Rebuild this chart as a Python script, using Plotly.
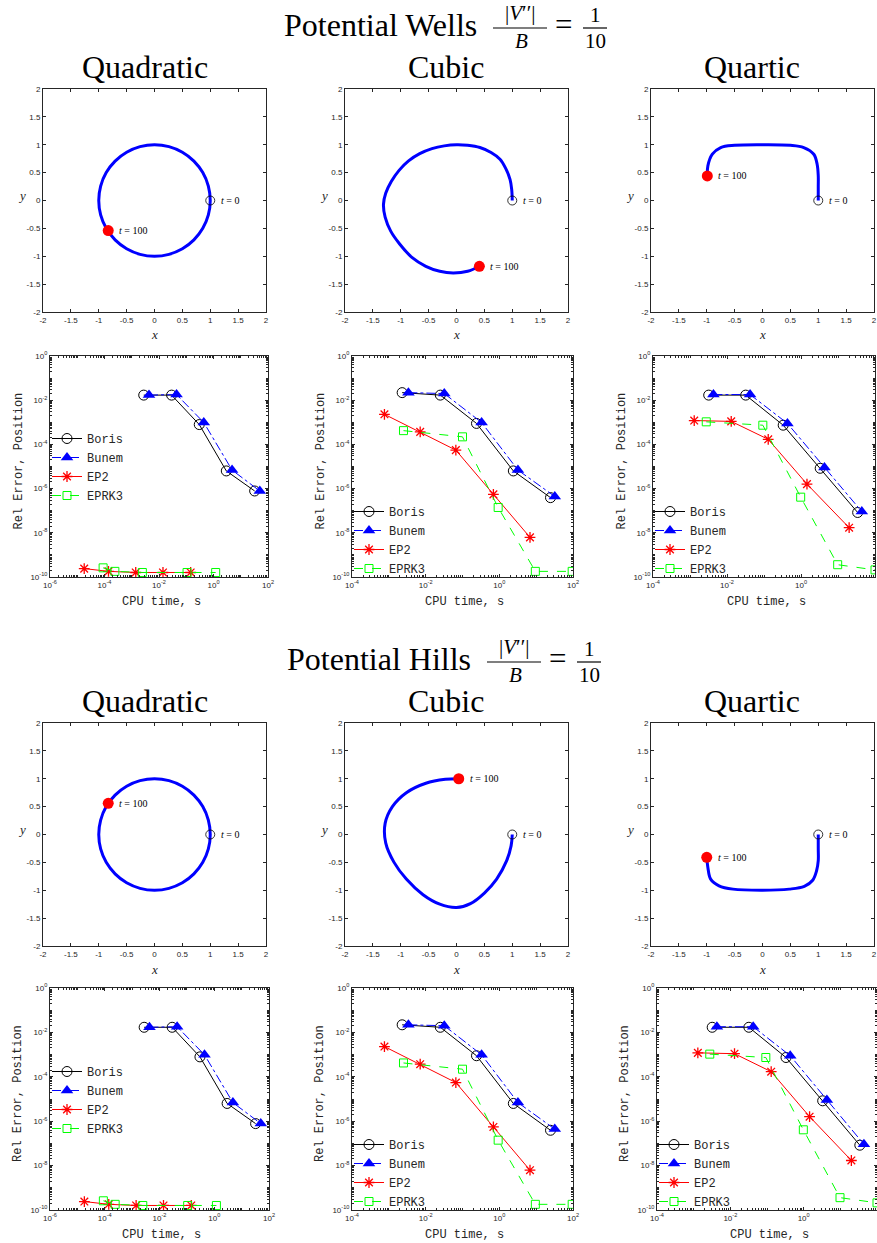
import plotly.graph_objects as go

W, H = 877, 1243
AXC = "#262626"
SERIF = "Liberation Serif, Times New Roman, serif"
SANS = "Liberation Sans, Arial, sans-serif"
MONO = "Liberation Mono, Courier New, monospace"

# ---------------- text / ticks ----------------
MAIN_TITLES = ["Potential Wells", "Potential Hills"]
COL_TITLES = ["Quadratic", "Cubic", "Quartic"]
METHODS = ["Boris", "Bunem", "EP2", "EPRK3"]
PHASE_TICKS = [-2, -1.5, -1, -0.5, 0, 0.5, 1, 1.5, 2]
PHASE_TICKTEXT = ["-2", "-1.5", "-1", "-0.5", "0", "0.5", "1", "1.5", "2"]
LOG_Y_TICKS = [1e-10, 1e-8, 1e-6, 1e-4, 1e-2, 1]
LOG_Y_TICKTEXT = ["10<sup>-10</sup>", "10<sup>-8</sup>", "10<sup>-6</sup>",
                  "10<sup>-4</sup>", "10<sup>-2</sup>", "10<sup>0</sup>"]
LOG_X_TICKS_Q = [1e-6, 1e-4, 1e-2, 1, 1e2]
LOG_X_TICKTEXT_Q = ["10<sup>-6</sup>", "10<sup>-4</sup>", "10<sup>-2</sup>", "10<sup>0</sup>", "10<sup>2</sup>"]
LOG_X_TICKS = [1e-4, 1e-2, 1, 1e2]
LOG_X_TICKTEXT = ["10<sup>-4</sup>", "10<sup>-2</sup>", "10<sup>0</sup>", "10<sup>2</sup>"]

# ---------------- trajectories ----------------
quad_x = [1, 0.966, 0.866, 0.707, 0.5, 0.259, 0, -0.259, -0.5, -0.707, -0.866, -0.966, -1,
          -0.966, -0.866, -0.707, -0.5, -0.259, 0, 0.259, 0.5, 0.707, 0.866, 0.966, 1]
quad_y = [0, 0.259, 0.5, 0.707, 0.866, 0.966, 1, 0.966, 0.866, 0.707, 0.5, 0.259, 0,
          -0.259, -0.5, -0.707, -0.866, -0.966, -1, -0.966, -0.866, -0.707, -0.5, -0.259, 0]

wells_cubic_x = [1, 0.99, 0.96, 0.88, 0.78, 0.62, 0.42, 0.2, 0, -0.22, -0.44, -0.66, -0.86,
                 -1.03, -1.17, -1.27, -1.31, -1.28, -1.18, -1.02, -0.8, -0.55, -0.3, -0.06, 0.2, 0.41]
wells_cubic_y = [0, 0.2, 0.38, 0.58, 0.74, 0.86, 0.95, 0.99, 1.0, 0.98, 0.93, 0.84, 0.71,
                 0.54, 0.34, 0.13, -0.07, -0.3, -0.55, -0.78, -1.02, -1.18, -1.27, -1.3, -1.27, -1.18]
wells_quartic_x = [1, 1, 1, 0.98, 0.92, 0.74, 0.5, 0, -0.5, -0.75, -0.9, -0.98, -0.99]
wells_quartic_y = [0, 0.25, 0.44, 0.65, 0.83, 0.95, 0.99, 1.0, 0.99, 0.95, 0.83, 0.62, 0.44]

hills_cubic_x = [1, 0.98, 0.9, 0.72, 0.5, 0.25, 0, -0.3, -0.6, -0.9, -1.12, -1.27, -1.28,
                 -1.15, -0.9, -0.55, -0.2, 0.04]
hills_cubic_y = [0, -0.2, -0.47, -0.8, -1.05, -1.24, -1.31, -1.25, -1.08, -0.8, -0.5, -0.15, 0.2,
                 0.5, 0.75, 0.92, 0.99, 1.0]
hills_quartic_x = [1, 1, 1, 0.97, 0.9, 0.75, 0.48, 0, -0.53, -0.78, -0.93, -0.98, -1.0]
hills_quartic_y = [0, -0.25, -0.47, -0.65, -0.82, -0.93, -0.98, -1.0, -0.98, -0.92, -0.8, -0.59, -0.41]

# final positions (t = 100)
wells_end_x = [-0.83, 0.41, -0.99]
wells_end_y = [-0.54, -1.18, 0.44]
hills_end_x = [-0.83, 0.04, -1.0]
hills_end_y = [0.56, 1.0, -0.41]

# ---------------- error vs CPU time ----------------
quad_boris_t = [2.75e-3, 2.9e-2, 0.30, 2.95, 32.4]
quad_boris_e = [1.7e-2, 1.7e-2, 7.9e-4, 6.3e-6, 7.8e-7]
quad_bunem_t = [4.3e-3, 4.4e-2, 0.44, 4.8, 50]
quad_bunem_e = [1.7e-2, 1.8e-2, 9.8e-4, 6.9e-6, 7.8e-7]
quad_ep2_t = [1.8e-5, 1.4e-4, 1.4e-3, 1.4e-2, 0.145]
quad_ep2_e = [2.4e-10, 1.8e-10, 1.6e-10, 1.6e-10, 1.6e-10]
quad_eprk3_t = [8.9e-5, 2.4e-4, 2.45e-3, 0.107, 1.2]
quad_eprk3_e = [2.6e-10, 1.8e-10, 1.6e-10, 1.6e-10, 1.6e-10]

cubic_boris_t = [2.3e-3, 2.5e-2, 0.24, 2.4, 24.5]
cubic_boris_e = [2.2e-2, 1.7e-2, 8.9e-4, 6.3e-6, 3.9e-7]
cubic_bunem_t = [3.4e-3, 3.2e-2, 0.33, 3.2, 32]
cubic_bunem_e = [2.2e-2, 2.0e-2, 9.8e-4, 6.9e-6, 4.4e-7]
cubic_ep2_t = [7.6e-4, 7.1e-3, 6.6e-2, 0.69, 6.8]
cubic_ep2_e = [2.3e-3, 3.7e-4, 5.5e-5, 5.5e-7, 6.2e-9]
cubic_eprk3_t = [2.5e-3, 0.1, 0.93, 9.5, 95]
cubic_eprk3_e = [4.2e-4, 2.2e-4, 1.4e-7, 1.8e-10, 1.8e-10]

quartic_boris_t = [3.2e-3, 3.2e-2, 0.33, 3.3, 34]
quartic_boris_e = [1.7e-2, 1.7e-2, 7.4e-4, 8.3e-6, 8.3e-8]
quartic_bunem_t = [4.3e-3, 4.2e-2, 0.43, 4.3, 44]
quartic_bunem_e = [1.8e-2, 1.8e-2, 8.9e-4, 8.9e-6, 9.1e-8]
quartic_ep2_t = [1.3e-3, 1.3e-2, 0.13, 1.45, 20]
quartic_ep2_e = [1.2e-3, 1.1e-3, 1.7e-4, 1.6e-6, 1.7e-8]
quartic_eprk3_t = [2.75e-3, 9.3e-2, 0.98, 9.8, 100]
quartic_eprk3_e = [1.05e-3, 7.4e-4, 4.1e-7, 3.6e-10, 2.1e-10]

# ---------------- layout geometry (pixels) ----------------
PHASE_COLS = [(43, 266), (345, 568), (651, 874)]
PHASE_ROWS = [(89, 312), (723, 946)]
LOG_COLS = [[(50, 268), (352, 573), (653, 875)], [(50, 269), (352, 573), (657, 877)]]
LOG_ROWS = [(356, 577), (988, 1210)]
ROW_SHIFT = 634


def px(v):
    return min(max(v / W, 0), 1)


def py(v):
    return min(max(1 - v / H, 0), 1)


fig = go.Figure()
layout = {}
annotations = []
shapes = []

axis_common = dict(showline=True, linecolor=AXC, linewidth=1, mirror="ticks", ticks="inside",
                   ticklen=3, tickcolor=AXC, tickwidth=0.6, showgrid=False, zeroline=False,
                   automargin=False, tickfont=dict(family=SANS, size=8, color=AXC))


def sfx(k):
    return "" if k == 1 else str(k)


def phase_panel(k, cx, ry, tx, ty, ex, ey):
    s = sfx(k)
    layout["xaxis" + s] = dict(domain=[px(cx[0]), px(cx[1])], range=[-2, 2], tickmode="array",
                               tickvals=PHASE_TICKS, ticktext=PHASE_TICKTEXT, anchor="y" + s,
                               **axis_common)
    layout["yaxis" + s] = dict(domain=[py(ry[1]), py(ry[0])], range=[-2, 2], tickmode="array",
                               tickvals=PHASE_TICKS, ticktext=PHASE_TICKTEXT, anchor="x" + s,
                               **axis_common)
    fig.add_trace(go.Scatter(x=tx, y=ty, mode="lines", line=dict(color="#0000FF", width=3, shape="spline"),
                             xaxis="x" + s, yaxis="y" + s, showlegend=False, hoverinfo="skip"))
    fig.add_trace(go.Scatter(x=[tx[0]], y=[ty[0]], mode="markers",
                             marker=dict(symbol="circle-open", size=9, color="black", line=dict(width=0.8)),
                             xaxis="x" + s, yaxis="y" + s, showlegend=False))
    fig.add_trace(go.Scatter(x=[ex], y=[ey], mode="markers",
                             marker=dict(symbol="circle", size=11, color="#FF0000"),
                             xaxis="x" + s, yaxis="y" + s, showlegend=False))
    for (ax_, ay_, txt) in [(tx[0], ty[0], "<i>t</i> = 0"), (ex, ey, "<i>t</i> = 100")]:
        annotations.append(dict(x=ax_, y=ay_, xref="x" + s, yref="y" + s, text=txt, showarrow=False,
                                xanchor="left", yanchor="middle", xshift=9,
                                font=dict(family=SERIF, size=10, color="black")))
    annotations.append(dict(x=px((cx[0] + cx[1]) / 2), y=py(ry[1] + 23), xref="paper", yref="paper",
                            text="<i>x</i>", showarrow=False, xanchor="center", yanchor="middle",
                            font=dict(family=SERIF, size=13, color=AXC)))
    annotations.append(dict(x=px(cx[0] - 21), y=py((ry[0] + ry[1]) / 2 - 5), xref="paper", yref="paper",
                            text="<i>y</i>", showarrow=False, xanchor="center", yanchor="middle",
                            font=dict(family=SERIF, size=13, color=AXC)))


STYLES = {
    "Boris": dict(line=dict(color="#000000", width=1),
                  marker=dict(symbol="circle-open", size=10, color="#000000", line=dict(width=1))),
    "Bunem": dict(line=dict(color="#0000FF", width=1, dash="dashdot"),
                  marker=dict(symbol="triangle-up", size=11, color="#0000FF")),
    "EP2": dict(line=dict(color="#FF0000", width=1),
                marker=dict(symbol="asterisk-open", size=9, color="#FF0000", line=dict(width=1.3, color="#FF0000"))),
    "EPRK3": dict(line=dict(color="#00FF00", width=1, dash="dash"),
                  marker=dict(symbol="square-open", size=8, color="#00FF00", line=dict(width=1))),
}

minor_vals = [m * 10.0 ** e for e in range(-10, 3) for m in range(1, 10)]


def log_panel(k, cx, ry, xr, xticks, xtext, series, legname, leg_y):
    s = sfx(k)
    minor = dict(tickmode="array", tickvals=minor_vals, ticks="inside", ticklen=1.6,
                 tickcolor=AXC, tickwidth=0.5, showgrid=False)
    layout["xaxis" + s] = dict(domain=[px(cx[0]), px(cx[1])], type="log", range=xr, tickmode="array",
                               tickvals=xticks, ticktext=xtext, anchor="y" + s, minor=minor, **axis_common)
    layout["yaxis" + s] = dict(domain=[py(ry[1]), py(ry[0])], type="log", range=[-10, 0], tickmode="array",
                               tickvals=LOG_Y_TICKS, ticktext=LOG_Y_TICKTEXT, anchor="x" + s,
                               minor=minor, **axis_common)
    for name, (t, e) in zip(METHODS, series):
        st = STYLES[name]
        fig.add_trace(go.Scatter(x=t, y=e, mode="lines+markers", name=name, line=st["line"],
                                 marker=st["marker"], xaxis="x" + s, yaxis="y" + s,
                                 legend=legname, showlegend=True))
    layout[legname] = dict(x=px(cx[0] - 3), y=py(leg_y), xanchor="left", yanchor="middle",
                           bgcolor="rgba(0,0,0,0)", borderwidth=0, itemwidth=30,
                           font=dict(family=MONO, size=12, color=AXC), tracegroupgap=0)
    annotations.append(dict(x=px(cx[0] - 32), y=py((ry[0] + ry[1]) / 2 - 5), xref="paper", yref="paper",
                            text="Rel Error, Position", showarrow=False, textangle=-90,
                            xanchor="center", yanchor="middle", font=dict(family=MONO, size=12, color=AXC)))
    annotations.append(dict(x=px((cx[0] + cx[1]) / 2 + 2), y=py(ry[1] + 25), xref="paper", yref="paper",
                            text="CPU time, s", showarrow=False, xanchor="center", yanchor="middle",
                            font=dict(family=MONO, size=12, color=AXC)))


quad_series = [(quad_boris_t, quad_boris_e), (quad_bunem_t, quad_bunem_e),
               (quad_ep2_t, quad_ep2_e), (quad_eprk3_t, quad_eprk3_e)]
cubic_series = [(cubic_boris_t, cubic_boris_e), (cubic_bunem_t, cubic_bunem_e),
                (cubic_ep2_t, cubic_ep2_e), (cubic_eprk3_t, cubic_eprk3_e)]
quartic_series = [(quartic_boris_t, quartic_boris_e), (quartic_bunem_t, quartic_bunem_e),
                  (quartic_ep2_t, quartic_ep2_e), (quartic_eprk3_t, quartic_eprk3_e)]

wells_traj = [(quad_x, quad_y), (wells_cubic_x, wells_cubic_y), (wells_quartic_x, wells_quartic_y)]
hills_traj = [(quad_x, quad_y), (hills_cubic_x, hills_cubic_y), (hills_quartic_x, hills_quartic_y)]

leg_names = ["legend", "legend2", "legend3", "legend4", "legend5", "legend6"]
leg_y_rows = [[467, 540, 540], [1100, 1173, 1173]]

k = 1
for blk in range(2):
    traj = wells_traj if blk == 0 else hills_traj
    ends_x = wells_end_x if blk == 0 else hills_end_x
    ends_y = wells_end_y if blk == 0 else hills_end_y
    for c in range(3):
        phase_panel(k, PHASE_COLS[c], PHASE_ROWS[blk], traj[c][0], traj[c][1], ends_x[c], ends_y[c])
        k += 1
    for c, ser in enumerate([quad_series, cubic_series, quartic_series]):
        if c == 0:
            xr, xt, xtt = [-6, 2], LOG_X_TICKS_Q, LOG_X_TICKTEXT_Q
        else:
            xr, xt, xtt = [-4, 2], LOG_X_TICKS, LOG_X_TICKTEXT
        log_panel(k, LOG_COLS[blk][c], LOG_ROWS[blk], xr, xt, xtt, ser, leg_names[blk * 3 + c],
                  leg_y_rows[blk][c])
        k += 1

# ---------------- titles ----------------
COL_TITLE_X = [145, 446, 752]
for blk in range(2):
    dy = blk * ROW_SHIFT
    dx = 0 if blk == 0 else -6
    title_right = 479 if blk == 0 else 473
    annotations.append(dict(x=px(title_right), y=py(25 + dy), xref="paper", yref="paper",
                            text=MAIN_TITLES[blk], showarrow=False, xanchor="right", yanchor="middle",
                            font=dict(family=SERIF, size=32, color="black")))
    annotations.append(dict(x=px(520 + dx), y=py(13 + dy), xref="paper", yref="paper",
                            text="|<i>V</i>′′|", showarrow=False, xanchor="center", yanchor="middle",
                            font=dict(family=SERIF, size=21, color="black")))
    annotations.append(dict(x=px(521 + dx), y=py(41 + dy), xref="paper", yref="paper",
                            text="<i>B</i>", showarrow=False, xanchor="center", yanchor="middle",
                            font=dict(family=SERIF, size=21, color="black")))
    annotations.append(dict(x=px(563 + dx), y=py(24 + dy), xref="paper", yref="paper",
                            text="=", showarrow=False, xanchor="center", yanchor="middle",
                            font=dict(family=SERIF, size=31, color="black")))
    annotations.append(dict(x=px(595 + dx), y=py(15 + dy), xref="paper", yref="paper",
                            text="1", showarrow=False, xanchor="center", yanchor="middle",
                            font=dict(family=SERIF, size=21, color="black")))
    annotations.append(dict(x=px(595 + dx), y=py(41 + dy), xref="paper", yref="paper",
                            text="10", showarrow=False, xanchor="center", yanchor="middle",
                            font=dict(family=SERIF, size=21, color="black")))
    for (x0, x1) in [(493, 547), (583, 607)]:
        shapes.append(dict(type="line", xref="paper", yref="paper", x0=px(x0 + dx), x1=px(x1 + dx),
                           y0=py(28 + dy), y1=py(28 + dy), line=dict(color="black", width=1.2)))
    for c in range(3):
        annotations.append(dict(x=px(COL_TITLE_X[c]), y=py(67 + dy), xref="paper", yref="paper",
                                text=COL_TITLES[c], showarrow=False, xanchor="center", yanchor="middle",
                                font=dict(family=SERIF, size=32, color="black")))

fig.update_layout(width=W, height=H, autosize=False, margin=dict(l=0, r=0, t=0, b=0, pad=0, autoexpand=False),
                  paper_bgcolor="white", plot_bgcolor="white", annotations=annotations, shapes=shapes,
                  **layout)
fig.write_html("out.html", config={"displayModeBar": False},
               post_script="document.body.style.margin='0px';document.body.style.padding='0px';"
                           "document.documentElement.style.overflow='hidden';")
